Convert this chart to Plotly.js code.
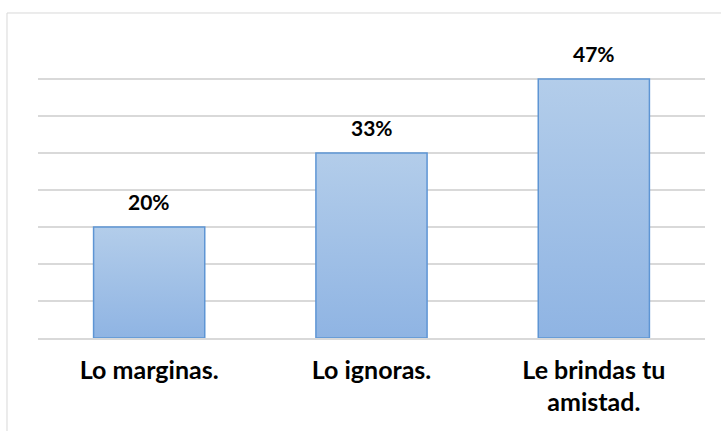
<!DOCTYPE html>
<html>
<head>
<meta charset="utf-8">
<script src="https://cdn.plot.ly/plotly-3.0.1.min.js"></script>
<style>
html,body{margin:0;padding:0;background:#fff;}
#chart{width:721px;height:431px;}
</style>
</head>
<body>
<div id="chart"></div>
<script>
const categories = ["Lo marginas.", "Lo ignoras.", "Le brindas tu<br>amistad."];
const counts = [3, 5, 7];
const percentLabels = ["20%", "33%", "47%"];

const FONT = "Lato, 'Open Sans', sans-serif";

const trace = {
  type: "bar",
  x: categories,
  y: counts,
  marker: {color: "#a1c0e6", line: {color: "#5e95d4", width: 1.5}},
  hoverinfo: "none"
};

const annotations = categories.map(function(c, i){
  return {
    x: c, y: counts[i], xref: "x", yref: "y",
    text: "<b>" + percentLabels[i] + "</b>",
    showarrow: false, yanchor: "middle", yshift: 26,
    font: {family: FONT, size: 21, color: "#000"}
  };
});

const layout = {
  width: 721, height: 431,
  margin: {l: 38, r: 16, t: 42, b: 93},
  paper_bgcolor: "#fff", plot_bgcolor: "#fff",
  bargap: 0.5,
  showlegend: false,
  font: {family: FONT, color: "#000"},
  xaxis: {
    type: "category",
    showgrid: false, zeroline: false,
    showline: true, linecolor: "#d9d9d9", linewidth: 1.5,
    ticks: "", ticklabelstandoff: 9,
    tickfont: {family: FONT, size: 25, color: "#000", weight: "bold"}
  },
  yaxis: {
    range: [0, 8], dtick: 1, showticklabels: false,
    showgrid: true, gridcolor: "#d9d9d9", gridwidth: 1.5,
    zeroline: false, ticks: "", fixedrange: true
  },
  annotations: annotations,
  shapes: [{
    type: "rect", xref: "paper", yref: "paper",
    x0: -0.0465, x1: 1.2, y0: -0.5, y1: 1.098,
    line: {color: "#d9d9d9", width: 1}, fillcolor: "rgba(0,0,0,0)", layer: "below"
  }]
};

Plotly.newPlot("chart", [trace], layout, {displayModeBar: false, staticPlot: true}).then(function(gd){
  const svg = gd.querySelector("svg.main-svg");
  const ns = "http://www.w3.org/2000/svg";
  let defs = svg.querySelector("defs");
  if (!defs) { defs = document.createElementNS(ns, "defs"); svg.insertBefore(defs, svg.firstChild); }
  const g = document.createElementNS(ns, "linearGradient");
  g.setAttribute("id", "barGrad");
  g.setAttribute("x1", "0"); g.setAttribute("y1", "0");
  g.setAttribute("x2", "0"); g.setAttribute("y2", "1");
  [["0%", "#b3cdea"], ["100%", "#8fb4e3"]].forEach(function(s){
    const st = document.createElementNS(ns, "stop");
    st.setAttribute("offset", s[0]); st.setAttribute("stop-color", s[1]);
    g.appendChild(st);
  });
  defs.appendChild(g);
  gd.querySelectorAll(".bars .point path").forEach(function(p){
    p.style.fill = "url(#barGrad)";
  });
});
</script>
</body>
</html>
